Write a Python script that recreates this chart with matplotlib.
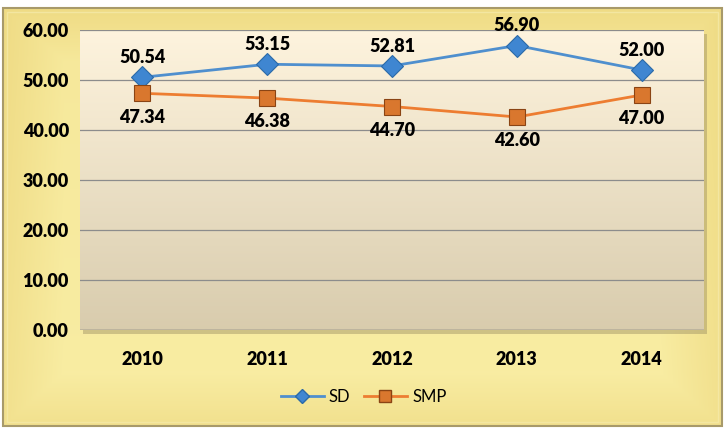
import numpy as np
import matplotlib
matplotlib.use("Agg")
import matplotlib.pyplot as plt
from matplotlib.patches import Rectangle
from matplotlib.lines import Line2D

years = ["2010", "2011", "2012", "2013", "2014"]
sd = [50.54, 53.15, 52.81, 56.90, 52.00]
smp = [47.34, 46.38, 44.70, 42.60, 47.00]
yticks = [0, 10, 20, 30, 40, 50, 60]

plt.rcParams['font.family'] = ['Lato', 'DejaVu Sans']

W, H = 727, 430
fig = plt.figure(figsize=(W / 100, H / 100), dpi=100)
fig.patch.set_facecolor('white')

bg = fig.add_axes([0, 0, 1, 1])
bg.set_xlim(0, W)
bg.set_ylim(H, 0)
bg.axis('off')

fx0, fy0, fx1, fy1 = 3, 8, 722, 426
ny, nx = 200, 300
yy = np.linspace(0, 1, ny)[:, None]
xx = np.linspace(0, 1, nx)[None, :]
ex = np.minimum(xx, 1 - xx)
ey = np.minimum(yy, 1 - yy)
edge = np.clip(1 - np.minimum(ex * 12, ey * 8), 0, 1)
c_light = np.array([0.975, 0.93, 0.64])
c_dark = np.array([0.90, 0.79, 0.40])
t = 0.35 * edge[..., None] + 0.15 * (1 - yy[..., None])
img = c_light * (1 - t) + c_dark * t
bg.imshow(img, extent=(fx0, fx1, fy1, fy0), aspect='auto', zorder=0, interpolation='bilinear')
bg.add_patch(Rectangle((fx0, fy0), fx1 - fx0, fy1 - fy0, fill=False, ec='#a89a6a', lw=1.5, zorder=1))
bg.add_patch(Rectangle((fx0 + 4, fy0 + 4), fx1 - fx0 - 8, fy1 - fy0 - 8, fill=False, ec='#f5e9a8', lw=1.0, zorder=1, alpha=0.8))

px0, py0, px1, py1 = 80, 30, 704, 330
bg.add_patch(Rectangle((px0 + 3, py0 + 4), px1 - px0, py1 - py0, fc='#9c8f62', ec='none', alpha=0.45, zorder=2))

ax = fig.add_axes([px0 / W, 1 - py1 / H, (px1 - px0) / W, (py1 - py0) / H])
ax.set_facecolor('none')
g = np.linspace(0, 1, 100)[:, None]
top = np.array([0.995, 0.955, 0.87])
bot = np.array([0.85, 0.80, 0.68])
grad = top * (1 - g[..., None]) + bot * g[..., None]
grad = np.repeat(grad, 2, axis=1)
ax.imshow(grad, extent=(0, 1, 0, 1), transform=ax.transAxes, aspect='auto', zorder=0, interpolation='bilinear')

x = np.arange(len(years))
ax.set_xlim(-0.5, len(years) - 0.5)
ax.set_ylim(0, 60)
ax.set_yticks(yticks)
ax.set_yticklabels([f"{v:.2f}" for v in yticks])
ax.set_xticks(x)
ax.set_xticklabels(years)
for s in ax.spines.values():
    s.set_visible(False)
ax.tick_params(length=0, labelsize=13, colors='black', pad=8)
ax.tick_params(axis='x', pad=15)
for lab in ax.get_xticklabels() + ax.get_yticklabels():
    lab.set_fontweight('heavy')
ax.yaxis.grid(True, color='#8c8c8c', lw=0.9, zorder=1)
ax.set_axisbelow(True)
ax.axhline(0, color='#7a7a7a', lw=1.0, zorder=1)

sd_col = '#4f8fce'
smp_col = '#ed7d31'
ax.plot(x, sd, color=sd_col, lw=2.0, marker='D', ms=11, mfc='#3f86d1', mec='#2b6aa8', mew=0.8, zorder=4, label='SD')
ax.plot(x, smp, color=smp_col, lw=2.0, marker='s', ms=12, mfc='#d9772e', mec='#8a4414', mew=0.8, zorder=4, label='SMP')

for xi, v in zip(x, sd):
    ax.annotate(f"{v:.2f}", (xi, v), xytext=(0, 8), textcoords='offset points',
                ha='center', va='bottom', fontsize=13, fontweight='heavy', zorder=5)
for xi, v in zip(x, smp):
    ax.annotate(f"{v:.2f}", (xi, v), xytext=(0, -11), textcoords='offset points',
                ha='center', va='top', fontsize=13, fontweight='heavy', zorder=5)

handles = [
    Line2D([0], [0], color=sd_col, lw=2.0, marker='D', ms=7, mfc='#3f86d1', mec='#2b6aa8'),
    Line2D([0], [0], color=smp_col, lw=2.0, marker='s', ms=8, mfc='#d9772e', mec='#8a4414'),
]
fig.legend(handles, ['SD', 'SMP'], loc='center', bbox_to_anchor=(0.5, 1 - 397 / H), ncol=2,
           frameon=False, fontsize=12, handlelength=2.6, columnspacing=0.8, handletextpad=0.3)

fig.savefig('out.png', dpi=100)
